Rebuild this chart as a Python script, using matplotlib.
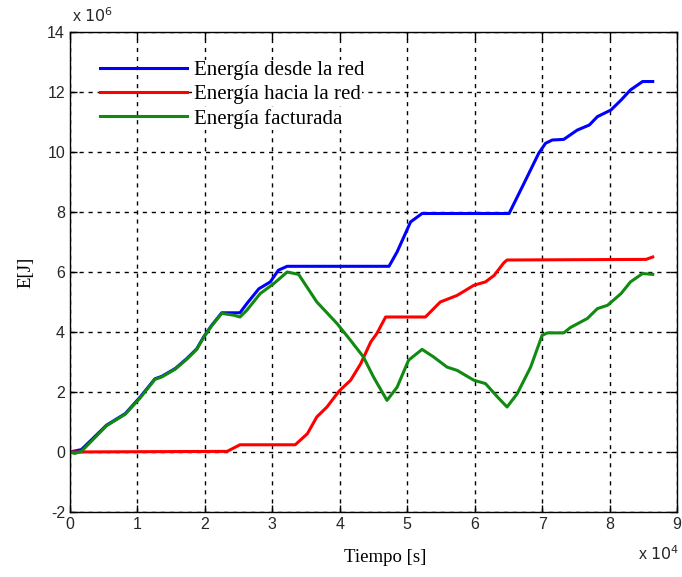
import matplotlib.pyplot as plt
import matplotlib

matplotlib.rcParams['font.family'] = 'Liberation Sans'
matplotlib.rcParams['axes.unicode_minus'] = False

# tiempo en unidades de 10^4 s, energia en unidades de 10^6 J
t_red_in = [0, 0.17, 0.54, 0.82, 1.04, 1.26, 1.36, 1.56, 1.73, 1.88, 1.98, 2.10, 2.25, 2.52,
            2.62, 2.80, 2.97, 3.09, 3.22, 4.73, 4.85, 5.05, 5.22, 6.51, 6.73, 6.95, 7.05,
            7.15, 7.32, 7.52, 7.70, 7.82, 8.02, 8.17, 8.31, 8.49, 8.64]
e_red_in = [0, 0.08, 0.89, 1.28, 1.83, 2.44, 2.52, 2.78, 3.11, 3.44, 3.83, 4.22, 4.64, 4.64,
            4.94, 5.44, 5.67, 6.06, 6.19, 6.19, 6.67, 7.67, 7.95, 7.95, 8.95, 9.96, 10.29,
            10.40, 10.42, 10.73, 10.90, 11.18, 11.40, 11.73, 12.07, 12.35, 12.35]

t_red_out = [0, 2.33, 2.52, 3.34, 3.52, 3.66, 3.81, 3.99, 4.16, 4.31, 4.46, 4.55, 4.68, 5.27,
             5.49, 5.74, 5.99, 6.16, 6.29, 6.43, 6.48, 8.54, 8.64]
e_red_out = [0, 0.02, 0.24, 0.24, 0.61, 1.17, 1.50, 2.03, 2.39, 2.94, 3.67, 3.95, 4.50, 4.50,
             5.00, 5.22, 5.56, 5.67, 5.89, 6.30, 6.40, 6.42, 6.50]

t_fact = [0, 0.07, 0.17, 0.54, 0.82, 1.04, 1.26, 1.36, 1.56, 1.73, 1.88, 1.98, 2.10, 2.25,
          2.43, 2.52, 2.62, 2.82, 3.02, 3.22, 3.39, 3.66, 3.96, 4.16, 4.35, 4.50, 4.70, 4.85,
          5.02, 5.22, 5.39, 5.59, 5.74, 5.99, 6.16, 6.34, 6.48, 6.63, 6.83, 7.00, 7.08, 7.32,
          7.42, 7.67, 7.82, 7.97, 8.17, 8.31, 8.49, 8.64]
e_fact = [0, -0.05, 0.02, 0.87, 1.26, 1.80, 2.42, 2.50, 2.76, 3.09, 3.42, 3.81, 4.20, 4.62,
          4.56, 4.50, 4.72, 5.28, 5.61, 6.00, 5.92, 5.00, 4.28, 3.72, 3.17, 2.50, 1.72, 2.16,
          3.06, 3.42, 3.17, 2.83, 2.72, 2.39, 2.28, 1.83, 1.50, 1.94, 2.83, 3.89, 3.97, 3.97,
          4.15, 4.45, 4.78, 4.89, 5.28, 5.67, 5.95, 5.92]

labels = ['Energía desde la red', 'Energía hacia la red', 'Energía facturada']
colors = ['#0000ff', '#ff0000', '#108a10']

fig = plt.figure(figsize=(6.82, 5.77), dpi=100)
ax = fig.add_axes([0.1026, 0.1127, 0.8901, 0.8318])

ax.plot(t_red_in, e_red_in, color=colors[0], lw=2.2, label=labels[0])
ax.plot(t_red_out, e_red_out, color=colors[1], lw=2.2, label=labels[1])
ax.plot(t_fact, e_fact, color=colors[2], lw=2.2, label=labels[2])

ax.set_xlim(0, 9)
ax.set_ylim(-2, 14)
ax.set_xticks(range(0, 10))
ax.set_yticks(range(-2, 15, 2))
ax.grid(True, color='black', linestyle=(0, (3, 3.5)), linewidth=1)
ax.tick_params(direction='in', top=True, right=True, length=5, width=1,
               labelsize=11.5, labelcolor='#262626')
for s in ax.spines.values():
    s.set_color('black')
    s.set_linewidth(1)

serif = 'Liberation Serif'
ax.set_xlabel('Tiempo [s]', family=serif, fontsize=13.5)
ax.xaxis.set_label_coords(0.52, -0.078)
ax.set_ylabel('E[J]', family=serif, fontsize=13.5, labelpad=9)

fig.text(0.105, 0.962, 'x $10^6$', fontsize=11.5, color='#262626')
fig.text(0.935, 0.03, 'x $10^4$', fontsize=11.5, color='#262626')

leg = ax.legend(loc='upper left', bbox_to_anchor=(0.035, 0.958), frameon=False,
                prop={'family': serif, 'size': 15}, handlelength=4.2,
                handletextpad=0.33, labelspacing=0.22, borderaxespad=0)
# fondo blanco solo detras del texto de la leyenda
for txt in leg.get_texts():
    txt.set_bbox(dict(facecolor='white', edgecolor='none', pad=1))

fig.savefig('out.png', dpi=100)
